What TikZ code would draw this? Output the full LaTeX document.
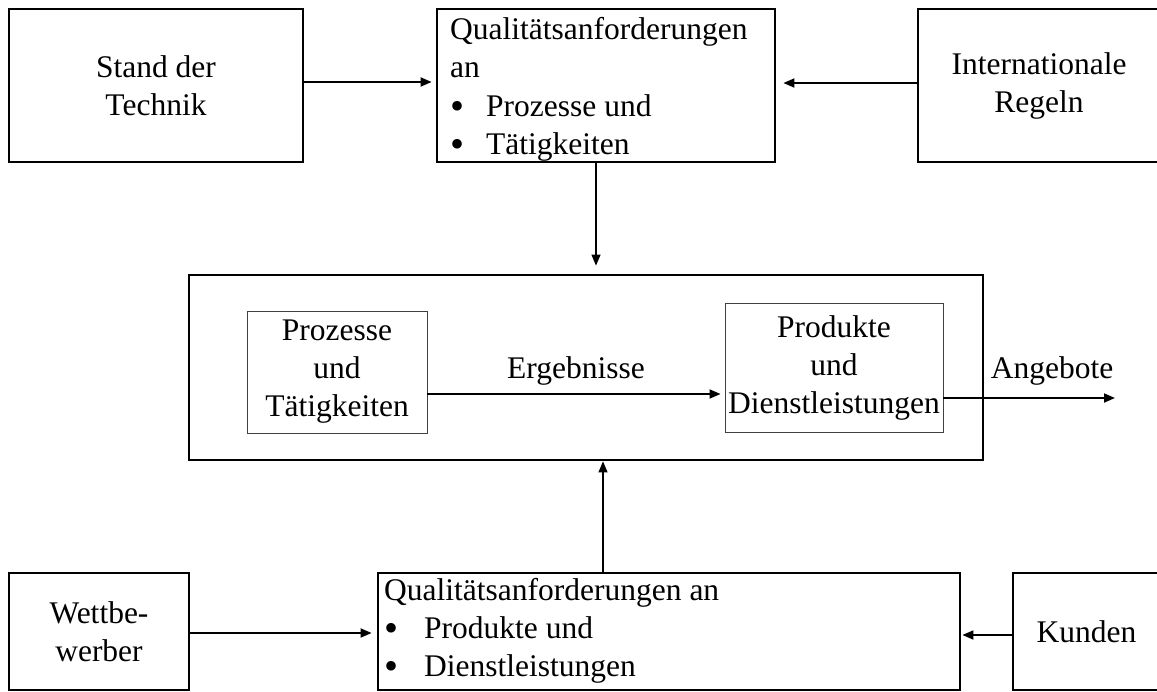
\documentclass[tikz,border=0pt]{standalone}
\usepackage{fontspec}
\setmainfont{Liberation Serif}
\usetikzlibrary{arrows.meta}
\newcommand{\listbullet}[1]{\makebox[#1][l]{\smash{\raisebox{-3pt}{\fontsize{40}{38}\selectfont\textbullet}}}}
\begin{document}
\begin{tikzpicture}[x=1pt,y=-1pt,
  txt/.style={font=\fontsize{31.5}{38}\selectfont},
  outer/.style={draw, line width=2.8pt, inner sep=0pt, txt, align=center},
  innerbox/.style={draw=black!75, line width=0.9pt, inner sep=0pt, txt, align=center},
  listtxt/.style={txt, align=left, inner sep=0pt, anchor=north west},
  lbl/.style={txt, inner sep=0pt, anchor=base},
  arr/.style={line width=1.8pt, -{Triangle[length=11pt,width=9pt]}},
  thinarr/.style={line width=1.2pt, -{Triangle[length=11pt,width=9pt]}},
]
\clip (0,0) rectangle (1157,691);

% top row
\node[outer, minimum width=294pt, minimum height=153pt] (A) at (156,85.5) {Stand der\\Technik};
\node[outer, minimum width=338pt, minimum height=153pt] (B) at (606,85.5) {};
\node[outer, minimum width=242pt, minimum height=153pt] (C) at (1039,85.5) {Internationale\\Regeln};
\node[listtxt, font=\fontsize{31.5}{38.5}\selectfont] (Btxt) at (450,17) {Qualitätsanforderungen\\an\\\listbullet{36pt}Prozesse und\\\listbullet{36pt}Tätigkeiten};

% central system
\node[outer, minimum width=794pt, minimum height=185pt] (D) at (586,367.5) {};
\node[innerbox, minimum width=180pt, minimum height=122pt] (E) at (337,372) {Prozesse\\und\\Tätigkeiten};
\node[innerbox, minimum width=218pt, minimum height=129pt] (F) at (834,367.5) {Produkte\\und\\Dienstleistungen};
\coordinate (out) at (1115,398);

% bottom row
\node[outer, minimum width=180pt, minimum height=117pt] (H) at (99,631.5) {Wettbe-\\werber};
\node[outer, minimum width=582pt, minimum height=117pt] (G) at (669,631.5) {};
\node[outer, minimum width=147pt, minimum height=117pt] (I) at (1086.5,631.5) {Kunden};
\node[listtxt] (Gtxt) at (384,578) {Qualitätsanforderungen an\\\listbullet{40pt}Produkte und\\\listbullet{40pt}Dienstleistungen};

% connectors
\draw[arr, shorten >=4pt] ([yshift=3.5pt]A.east) -- ([yshift=3.5pt]A.east -| B.west);
\draw[arr, shorten >=7pt] ([yshift=2.5pt]C.west) -- ([yshift=2.5pt]C.west -| B.east);
\draw[thinarr, shorten >=8pt] ([xshift=-10pt]B.south) -- ([xshift=-10pt]B.south |- D.north);
\draw[thinarr] ([xshift=17pt]D.south |- G.north) -- ([xshift=17pt]D.south);
\draw[arr, shorten >=4pt] ([yshift=-22pt]E.east) -- ([yshift=-22pt]E.east -| F.west)
  node[lbl, pos=0.5, yshift=16pt] (erg) {Ergebnisse};
\draw[arr] ([yshift=-30.5pt]F.east) -- (out);
\node[lbl] (ang) at (1052,378) {Angebote};
\draw[arr, shorten >=5pt] ([yshift=-1.5pt]H.east) -- ([yshift=-1.5pt]H.east -| G.west);
\draw[arr, shorten >=1pt] ([yshift=-3.5pt]I.west) -- ([yshift=-3.5pt]I.west -| G.east);
\end{tikzpicture}
\end{document}
